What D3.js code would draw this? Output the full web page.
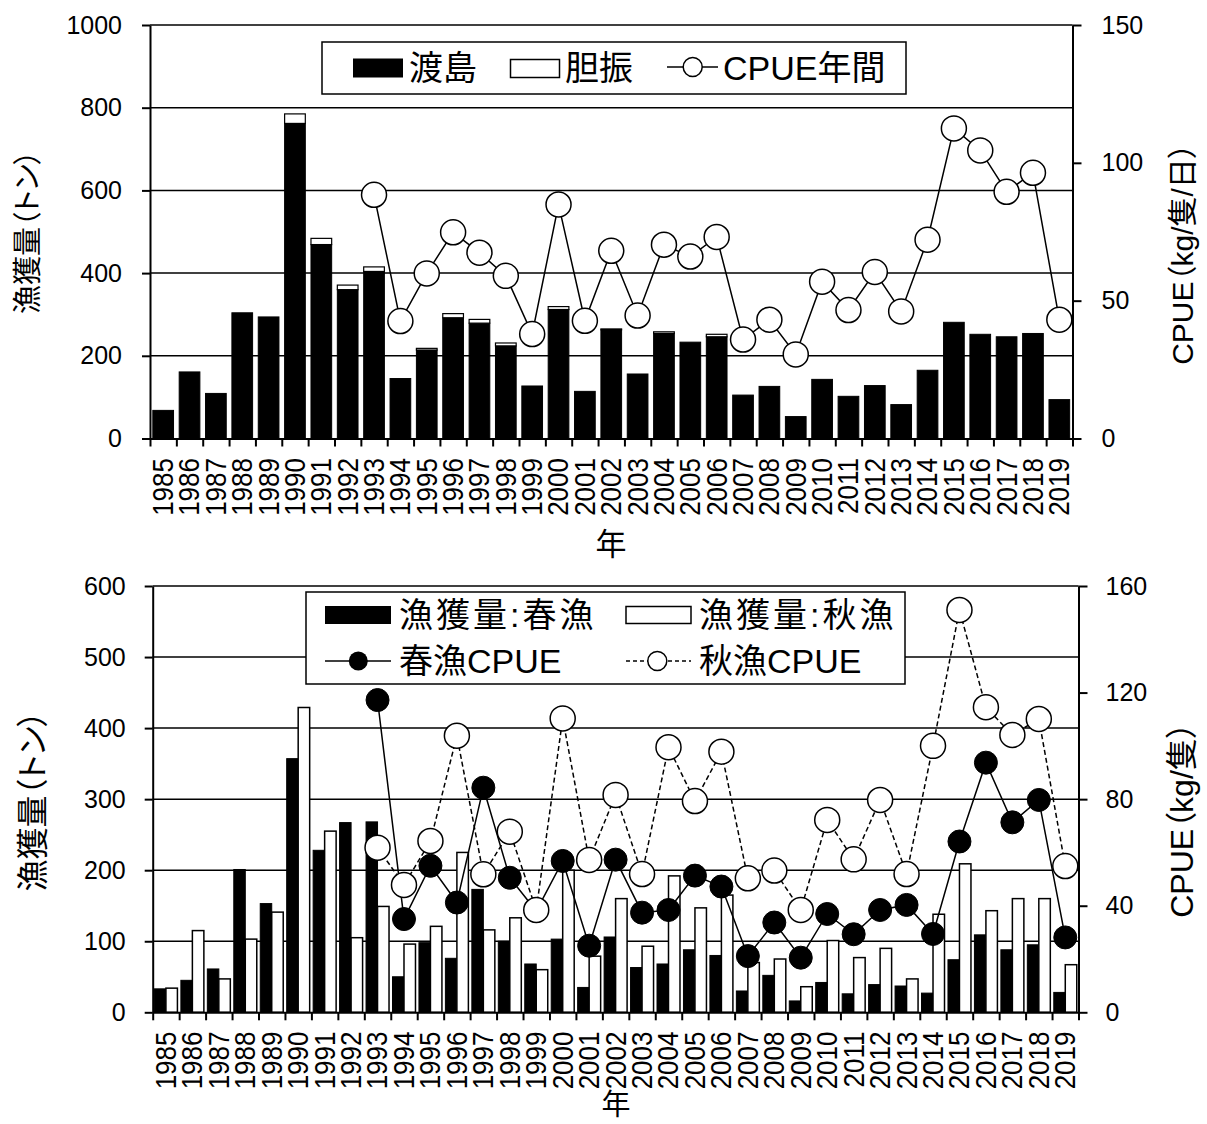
<!DOCTYPE html>
<html lang="ja">
<head>
<meta charset="utf-8">
<title>漁獲量とCPUE</title>
<script src="https://cdn.jsdelivr.net/npm/d3@7/dist/d3.min.js"></script>
<style>
  body { margin: 0; background: #fff; }
  svg { display: block; font-family: "Liberation Sans", Arial, "Noto Sans CJK JP", sans-serif; }
  .jp { font-feature-settings: "palt"; }
</style>
</head>
<body>
<script>
// 年
var years = ["1985","1986","1987","1988","1989","1990","1991","1992","1993","1994",
             "1995","1996","1997","1998","1999","2000","2001","2002","2003","2004",
             "2005","2006","2007","2008","2009","2010","2011","2012","2013","2014",
             "2015","2016","2017","2018","2019"];

// 上段: 渡島・胆振の漁獲量(トン) と 年間CPUE(kg/隻/日)
var watashima = [68, 161, 109, 304, 294, 762, 469, 360, 404, 145,
                 214, 292, 279, 224, 127, 312, 114, 263, 156, 254,
                 233, 246, 105, 126, 53, 143, 102, 128, 82, 165,
                 281, 252, 246, 254, 94];
var iburi = [0, 0, 0, 0, 0, 23, 15, 11, 11, 0,
             4, 10, 9, 7, 0, 7, 0, 2, 0, 4,
             0, 6, 0, 0, 0, 0, 0, 0, 0, 0,
             0, 0, 0, 0, 0];
var cpueYear = [null, null, null, null, null, null, null, null, 88.4, 42.6,
                59.9, 74.8, 67.4, 59.0, 37.9, 84.9, 42.7, 68.1, 44.6, 70.3,
                66.0, 73.1, 35.9, 43.1, 30.5, 56.9, 46.6, 60.4, 46.1, 72.1,
                112.5, 104.5, 89.5, 96.4, 43.1];

// 下段: 春漁・秋漁の漁獲量(トン) と CPUE(kg/隻)
var springCatch = [33, 45, 61, 201, 153, 357, 228, 267, 268, 50,
                   98, 76, 173, 100, 68, 103, 35, 106, 63, 68,
                   88, 80, 30, 52, 16, 42, 26, 39, 37, 27,
                   74, 109, 88, 95, 28];
var autumnCatch = [34, 115, 47, 103, 141, 429, 255, 105, 149, 96,
                   121, 225, 116, 133, 60, 200, 79, 160, 93, 192,
                   147, 165, 70, 75, 36, 101, 77, 90, 47, 138,
                   209, 143, 160, 160, 67];
var springCpue = [null, null, null, null, null, null, null, null, 117.2, 35.0,
                  55.0, 41.2, 84.3, 50.5, 38.0, 56.8, 25.0, 57.3, 37.4, 38.4,
                  51.3, 47.2, 21.1, 33.7, 20.5, 36.9, 29.3, 38.4, 40.3, 29.4,
                  64.1, 93.7, 71.3, 79.7, 28.1];
var autumnCpue = [null, null, null, null, null, null, null, null, 61.8, 47.8,
                  64.3, 103.8, 51.8, 67.8, 38.4, 110.3, 57.2, 81.6, 51.9, 99.5,
                  79.3, 97.8, 50.3, 53.2, 38.4, 72.2, 57.4, 79.7, 51.9, 100.0,
                  151.0, 114.5, 104.1, 110.1, 54.9];

var topLeftTicks = [0, 200, 400, 600, 800, 1000];
var topRightTicks = [0, 50, 100, 150];
var botLeftTicks = [0, 100, 200, 300, 400, 500, 600];
var botRightTicks = [0, 40, 80, 120, 160];

var svg = d3.select("body").append("svg")
    .attr("width", 1207)
    .attr("height", 1124);

svg.append("rect").attr("width", 1207).attr("height", 1124).attr("fill", "#fff");

function styleAxis(g, size) {
    g.select(".domain").attr("stroke", "#000").attr("stroke-width", 2);
    g.selectAll(".tick line").attr("stroke", "#000").attr("stroke-width", 2);
    g.selectAll(".tick text").attr("fill", "#000").style("font-size", size + "px")
        .style("font-family", "'Liberation Sans', Arial, sans-serif");
}

function drawFrame(o) {
    var g = svg.append("g");
    // gridlines
    g.selectAll("line.grid")
        .data(o.leftTicks.filter(function(d) { return d > 0; }))
        .enter().append("line")
        .attr("x1", o.x0).attr("x2", o.x1)
        .attr("y1", function(d) { return o.y(d); })
        .attr("y2", function(d) { return o.y(d); })
        .attr("stroke", "#000").attr("stroke-width", 1.5);
    return g;
}

function drawAxes(o) {
    var gl = svg.append("g").attr("transform", "translate(" + o.x0 + ",0)")
        .call(d3.axisLeft(o.y).tickValues(o.leftTicks).tickFormat(d3.format("d"))
            .tickSize(8).tickSizeOuter(0).tickPadding(o.padL));
    styleAxis(gl, 25);
    var gr = svg.append("g").attr("transform", "translate(" + o.x1 + ",0)")
        .call(d3.axisRight(o.yR).tickValues(o.rightTicks).tickFormat(d3.format("d"))
            .tickSize(9).tickSizeOuter(0).tickPadding(o.padR));
    styleAxis(gr, 25);
    var xl = d3.scaleLinear().domain([0, years.length]).range([o.x0, o.x1]);
    var gb = svg.append("g").attr("transform", "translate(0," + o.y(0) + ")")
        .call(d3.axisBottom(xl).tickValues(d3.range(years.length + 1)).tickFormat("").tickSize(8).tickSizeOuter(0));
    styleAxis(gb, 25);

    // year labels
    svg.append("g").selectAll("text")
        .data(years).enter().append("text")
        .attr("transform", function(d) {
            return "translate(" + (o.x(d) + o.x.bandwidth() / 2) + "," + o.labelTop + ") rotate(-90) scale(1,1.1)";
        })
        .attr("text-anchor", "end")
        .attr("dominant-baseline", "central")
        .style("font-size", "26px")
        .text(function(d) { return d; });

    svg.append("text").attr("class", "jp")
        .attr("x", o.xTitle[0]).attr("y", o.xTitle[1])
        .attr("text-anchor", "middle").attr("dominant-baseline", "central")
        .style("font-size", o.xTitleSize + "px")
        .text("年");
    svg.append("text").attr("class", "jp")
        .attr("transform", "translate(" + o.lTitle[0] + "," + o.lTitle[1] + ") rotate(-90)")
        .attr("text-anchor", "middle").attr("dominant-baseline", "central")
        .style("font-size", o.titleSize + "px")
        .text("漁獲量（トン）");
    svg.append("text").attr("class", "jp")
        .attr("transform", "translate(" + o.rTitle[0] + "," + o.rTitle[1] + ") rotate(-90)")
        .attr("text-anchor", "middle").attr("dominant-baseline", "central")
        .style("font-size", o.rTitleSize + "px")
        .text(o.rTitleText);
}

// ---------- 上段 ----------
var T = {
    x0: 150, x1: 1072.5,
    x: d3.scaleBand().domain(years).range([150, 1072.5]).paddingInner(0.215).paddingOuter(0.1075),
    y: d3.scaleLinear().domain([0, 1000]).range([438.5, 25]),
    yR: d3.scaleLinear().domain([0, 150]).range([438.5, 25]),
    leftTicks: topLeftTicks, rightTicks: topRightTicks,
    padL: 20, padR: 20, labelTop: 458,
    xTitle: [611, 544], lTitle: [28, 232], rTitle: [1182, 254],
    xTitleSize: 31, titleSize: 29, rTitleSize: 30, rTitleText: "CPUE（kg/隻/日）"
};

drawFrame(T);

var topBars = svg.append("g");
topBars.selectAll("rect.w")
    .data(years).enter().append("rect")
    .attr("x", function(d) { return T.x(d); })
    .attr("width", T.x.bandwidth())
    .attr("y", function(d, i) { return T.y(watashima[i]); })
    .attr("height", function(d, i) { return T.y(0) - T.y(watashima[i]); })
    .attr("fill", "#000").attr("stroke", "#000").attr("stroke-width", 1);
topBars.selectAll("rect.i")
    .data(years.filter(function(d, i) { return iburi[i] > 0; })).enter().append("rect")
    .attr("x", function(d) { return T.x(d); })
    .attr("width", T.x.bandwidth())
    .attr("y", function(d) { var i = years.indexOf(d); return T.y(watashima[i] + iburi[i]); })
    .attr("height", function(d) { var i = years.indexOf(d); return T.y(watashima[i]) - T.y(watashima[i] + iburi[i]); })
    .attr("fill", "#fff").attr("stroke", "#000").attr("stroke-width", 1.2);

drawAxes(T);

var cxT = function(i) { return T.x(years[i]) + T.x.bandwidth() / 2; };
svg.append("path")
    .datum(cpueYear)
    .attr("fill", "none").attr("stroke", "#000").attr("stroke-width", 1.5)
    .attr("d", d3.line()
        .defined(function(d) { return d != null; })
        .x(function(d, i) { return cxT(i); })
        .y(function(d) { return T.yR(d); }));
svg.append("g").selectAll("circle")
    .data(cpueYear.map(function(v, i) { return {v: v, i: i}; }).filter(function(d) { return d.v != null; }))
    .enter().append("circle")
    .attr("cx", function(d) { return cxT(d.i); })
    .attr("cy", function(d) { return T.yR(d.v); })
    .attr("r", 12.5)
    .attr("fill", "#fff").attr("stroke", "#000").attr("stroke-width", 1.5);

// legend (上段)
var lt = svg.append("g").attr("class", "jp").style("font-size", "34px");
lt.append("rect").attr("x", 322).attr("y", 42).attr("width", 584).attr("height", 52)
    .attr("fill", "#fff").attr("stroke", "#000").attr("stroke-width", 1.5);
lt.append("rect").attr("x", 353).attr("y", 58.5).attr("width", 50).attr("height", 19).attr("fill", "#000");
lt.append("text").attr("x", 409).attr("y", 68).attr("dominant-baseline", "central").text("渡島");
lt.append("rect").attr("x", 510.5).attr("y", 59.5).attr("width", 49).attr("height", 18)
    .attr("fill", "#fff").attr("stroke", "#000").attr("stroke-width", 1.5);
lt.append("text").attr("x", 565).attr("y", 68).attr("dominant-baseline", "central").text("胆振");
lt.append("line").attr("x1", 667).attr("x2", 718).attr("y1", 67).attr("y2", 67)
    .attr("stroke", "#000").attr("stroke-width", 1.5);
lt.append("circle").attr("cx", 692.7).attr("cy", 67).attr("r", 9.5)
    .attr("fill", "#fff").attr("stroke", "#000").attr("stroke-width", 1.5);
lt.append("text").attr("x", 723).attr("y", 68).attr("dominant-baseline", "central").text("CPUE年間");

// ---------- 下段 ----------
var B = {
    x0: 152.7, x1: 1078.5,
    x: d3.scaleBand().domain(years).range([152.7, 1078.5]).paddingInner(0.131).paddingOuter(0.0655),
    y: d3.scaleLinear().domain([0, 600]).range([1012.3, 586]),
    yR: d3.scaleLinear().domain([0, 160]).range([1012.3, 586]),
    leftTicks: botLeftTicks, rightTicks: botRightTicks,
    padL: 19, padR: 18, labelTop: 1031.5,
    xTitle: [616, 1105], lTitle: [33, 801], rTitle: [1182, 820],
    xTitleSize: 29, titleSize: 32, rTitleSize: 32, rTitleText: "CPUE（kg/隻）"
};
var xSub = d3.scaleBand().domain(["spring", "autumn"]).range([0, B.x.bandwidth()]);

drawFrame(B);

var botBars = svg.append("g");
botBars.selectAll("rect.s")
    .data(years).enter().append("rect")
    .attr("x", function(d) { return B.x(d) + xSub("spring"); })
    .attr("width", xSub.bandwidth())
    .attr("y", function(d, i) { return B.y(springCatch[i]); })
    .attr("height", function(d, i) { return B.y(0) - B.y(springCatch[i]); })
    .attr("fill", "#000").attr("stroke", "#000").attr("stroke-width", 1);
botBars.selectAll("rect.a")
    .data(years).enter().append("rect")
    .attr("x", function(d) { return B.x(d) + xSub("autumn"); })
    .attr("width", xSub.bandwidth())
    .attr("y", function(d, i) { return B.y(autumnCatch[i]); })
    .attr("height", function(d, i) { return B.y(0) - B.y(autumnCatch[i]); })
    .attr("fill", "#fff").attr("stroke", "#000").attr("stroke-width", 1.5);

drawAxes(B);

var cxB = function(i) { return B.x(years[i]) + B.x.bandwidth() / 2; };
var lineB = d3.line()
    .defined(function(d) { return d != null; })
    .x(function(d, i) { return cxB(i); })
    .y(function(d) { return B.yR(d); });

svg.append("path").datum(springCpue)
    .attr("fill", "none").attr("stroke", "#000").attr("stroke-width", 1.5)
    .attr("d", lineB);
svg.append("g").selectAll("circle")
    .data(springCpue.map(function(v, i) { return {v: v, i: i}; }).filter(function(d) { return d.v != null; }))
    .enter().append("circle")
    .attr("cx", function(d) { return cxB(d.i); })
    .attr("cy", function(d) { return B.yR(d.v); })
    .attr("r", 11.5)
    .attr("fill", "#000").attr("stroke", "#000").attr("stroke-width", 1);

svg.append("path").datum(autumnCpue)
    .attr("fill", "none").attr("stroke", "#000").attr("stroke-width", 1.5)
    .attr("stroke-dasharray", "5,3")
    .attr("d", lineB);
svg.append("g").selectAll("circle")
    .data(autumnCpue.map(function(v, i) { return {v: v, i: i}; }).filter(function(d) { return d.v != null; }))
    .enter().append("circle")
    .attr("cx", function(d) { return cxB(d.i); })
    .attr("cy", function(d) { return B.yR(d.v); })
    .attr("r", 12.5)
    .attr("fill", "#fff").attr("stroke", "#000").attr("stroke-width", 1.5);

// legend (下段)
var lb = svg.append("g").attr("class", "jp").style("font-size", "34px");
lb.append("rect").attr("x", 306).attr("y", 592).attr("width", 599).attr("height", 92)
    .attr("fill", "#fff").attr("stroke", "#000").attr("stroke-width", 1.5);
lb.append("rect").attr("x", 325).attr("y", 606).attr("width", 66).attr("height", 18).attr("fill", "#000");
lb.append("text").attr("x", 399).attr("y", 615).attr("dominant-baseline", "central")
    .style("letter-spacing", "3px").text("漁獲量:春漁");
lb.append("rect").attr("x", 626).attr("y", 606.5).attr("width", 65).attr("height", 17)
    .attr("fill", "#fff").attr("stroke", "#000").attr("stroke-width", 1.5);
lb.append("text").attr("x", 699).attr("y", 615).attr("dominant-baseline", "central")
    .style("letter-spacing", "3px").text("漁獲量:秋漁");
lb.append("line").attr("x1", 325).attr("x2", 391).attr("y1", 661).attr("y2", 661)
    .attr("stroke", "#000").attr("stroke-width", 1.5);
lb.append("circle").attr("cx", 358.3).attr("cy", 661).attr("r", 9.5).attr("fill", "#000");
lb.append("text").attr("x", 399).attr("y", 661).attr("dominant-baseline", "central").text("春漁CPUE");
lb.append("line").attr("x1", 626).attr("x2", 691).attr("y1", 661).attr("y2", 661)
    .attr("stroke", "#000").attr("stroke-width", 1.5).attr("stroke-dasharray", "4,3");
lb.append("circle").attr("cx", 657.3).attr("cy", 661).attr("r", 9.5)
    .attr("fill", "#fff").attr("stroke", "#000").attr("stroke-width", 1.5);
lb.append("text").attr("x", 699).attr("y", 661).attr("dominant-baseline", "central").text("秋漁CPUE");
</script>
</body>
</html>
